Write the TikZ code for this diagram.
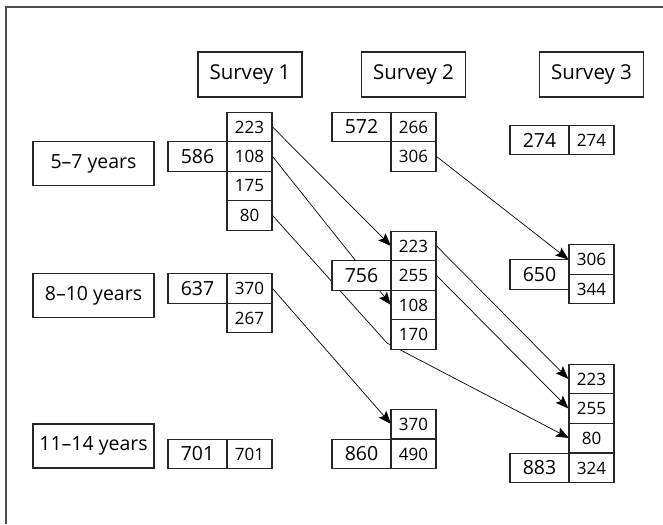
\documentclass[tikz,border=0pt]{standalone}
\usepackage{fontspec}
\setmainfont{Open Sans}
\usetikzlibrary{arrows.meta}
\begin{document}
\begin{tikzpicture}[x=1pt,y=-1pt,
  box/.style={draw=black!85, line width=1.1pt, fill=white, inner sep=0pt, align=center},
  sm/.style={box, minimum width=45pt, minimum height=29.5pt, font=\fontsize{17}{19}\selectfont},
  bg/.style={box, minimum width=59pt, minimum height=29.5pt, font=\fontsize{19.5}{21}\selectfont},
  hdr/.style={box, minimum width=104pt, minimum height=45pt, font=\fontsize{20.5}{22}\selectfont},
  age/.style={box, minimum width=121pt, minimum height=44pt, font=\fontsize{19.5}{21}\selectfont},
  arr/.style={draw=black, line width=0.7pt, -{Stealth[length=13pt,width=10pt,inset=2.5pt]}}]
\useasboundingbox (0,0) rectangle (663,524);
\draw[line width=1.4pt, black!70] (6,524) -- (6,7) -- (663,7);

% headers
\node[hdr] (h1) at (250,74.5) {Survey 1};
\node[hdr] (h2) at (413.5,74.5) {Survey 2};
\node[hdr] (h3) at (591.5,74.5) {Survey 3};
\node[age] (g1) at (93.5,163.5) {5–7 years};
\node[age] (g2) at (93.5,295.5) {8–10 years};
\node[age] (g3) at (93.5,446) {11–14 years};

\coordinate (bend) at (387,343);

% Survey 1
\node[sm] (a223) at (249.5,127) {223};
\node[sm] (a108) at (249.5,156.5) {108};
\node[bg] (a586) at (197.5,156.5) {586};
\node[sm] (a175) at (249.5,186) {175};
\node[sm] (a80) at (249.5,215.5) {80};
\node[sm] (a370) at (249.5,288.5) {370};
\node[bg] (a637) at (197.5,288.5) {637};
\node[sm] (a267) at (249.5,318) {267};
\node[sm] (a701s) at (249.5,454) {701};
\node[bg] (a701) at (197.5,454) {701};

% arrows into Survey 2 (drawn before its boxes)
\coordinate (b223w) at (391,246);
\coordinate (b108w) at (391,305);
\coordinate (b370w) at (391,424);
\coordinate (c80w) at (569,438);
\draw[arr] (a223.east) -- (b223w);
\draw[arr] (a108.east) -- (b108w);
\draw[arr] (a80.east) -- (bend) -- (c80w);
\draw[arr] (a370.east) -- (b370w);

% Survey 2
\node[sm] (b266) at (413.5,127) {266};
\node[bg] (b572) at (361.5,127) {572};
\node[sm] (b306) at (413.5,156.5) {306};
\node[sm] (b223) at (413.5,246) {223};
\node[sm] (b255) at (413.5,275.5) {255};
\node[bg] (b756) at (361.5,275.5) {756};
\node[sm] (b108) at (413.5,305) {108};
\node[sm] (b170) at (413.5,334.5) {170};
\node[sm] (b370) at (413.5,424) {370};
\node[sm] (b490) at (413.5,454) {490};
\node[bg] (b860) at (361.5,454) {860};

% Survey 3
\node[sm] (c274s) at (591.5,140) {274};
\node[bg] (c274) at (539.5,140) {274};
\node[sm] (c306) at (591.5,259.5) {306};
\node[sm] (c344) at (591.5,289) {344};
\node[bg] (c650) at (539.5,274.5) {650};
\node[sm] (c223) at (591.5,379) {223};
\node[sm] (c255) at (591.5,408.5) {255};
\node[sm] (c80) at (591.5,438) {80};
\node[sm] (c324) at (591.5,468) {324};
\node[bg] (c883) at (539.5,468) {883};

\draw[arr] (b306.east) -- (c306.west);
\draw[arr] (b223.east) -- (c223.west);
\draw[arr] (b255.east) -- (c255.west);
\end{tikzpicture}
\end{document}
